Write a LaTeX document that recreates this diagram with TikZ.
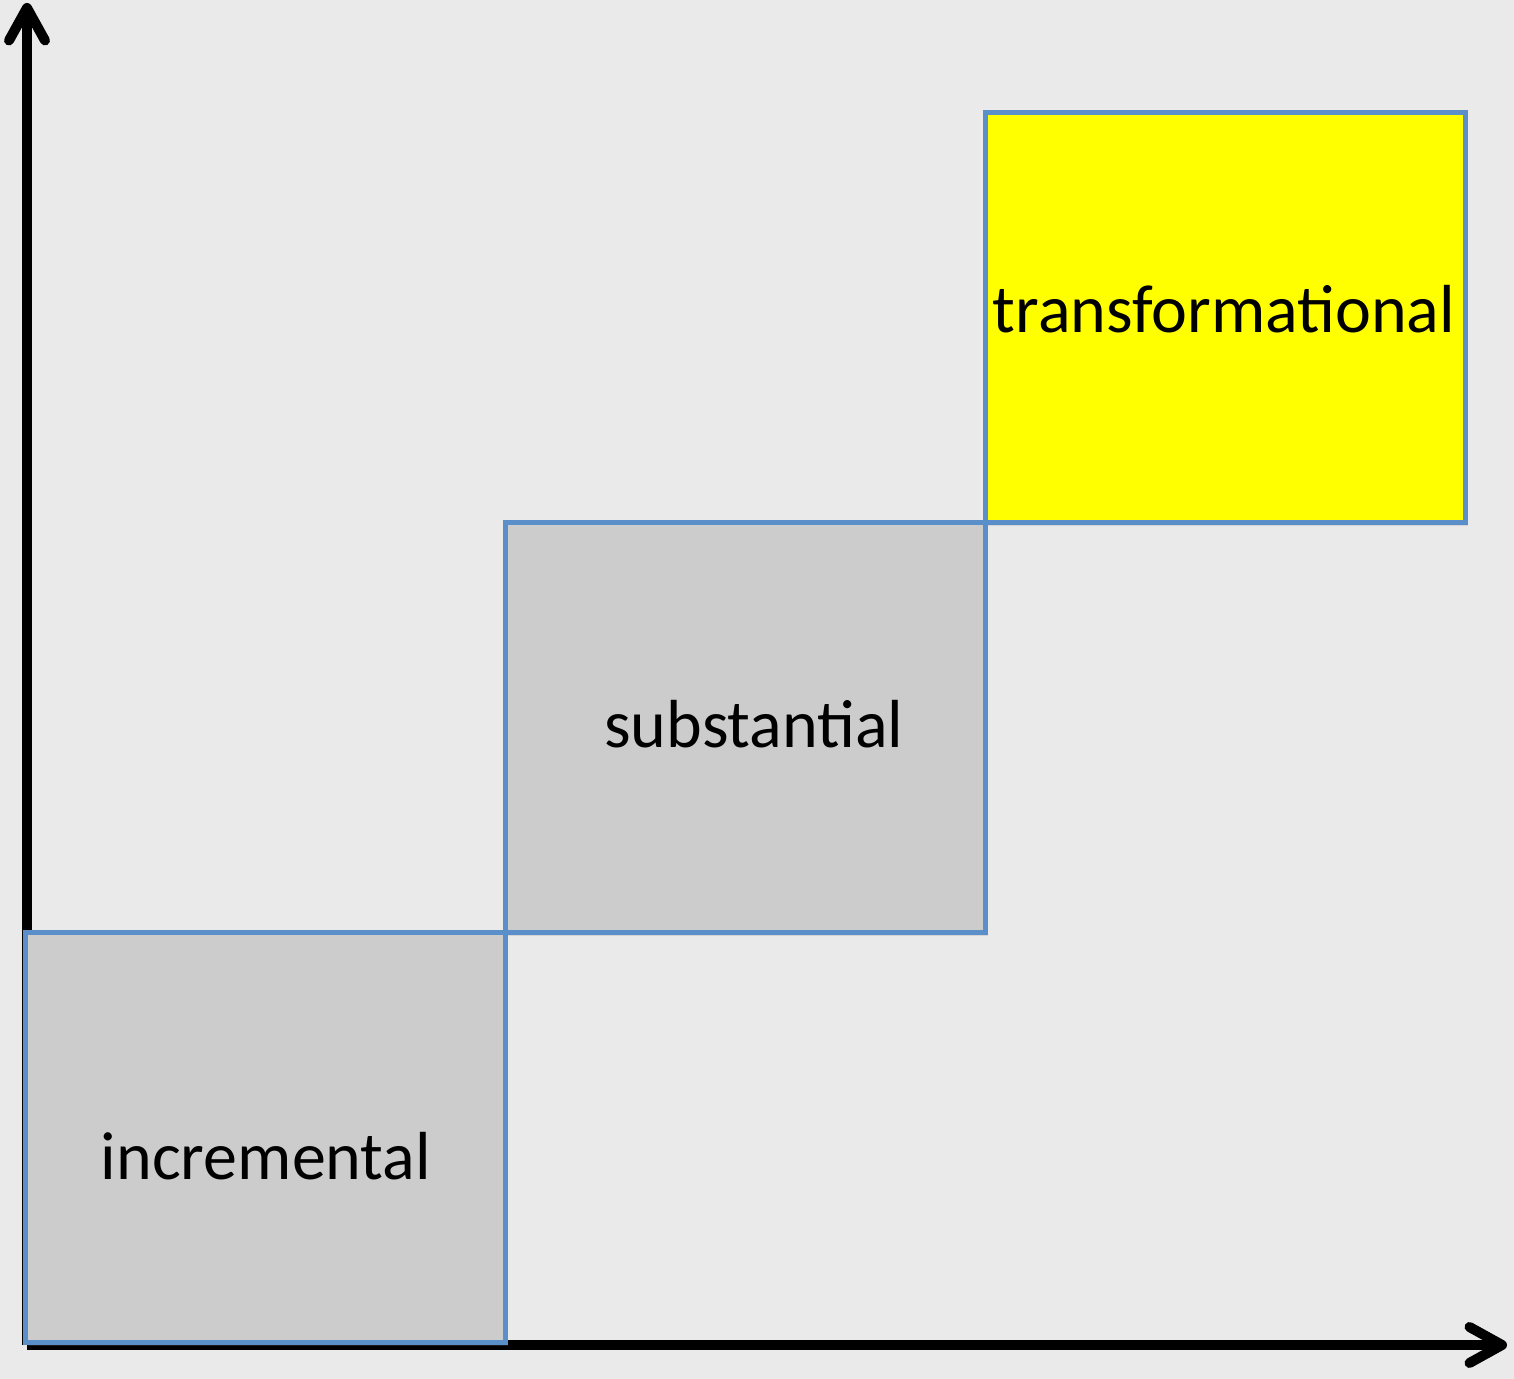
\documentclass[tikz,border=0pt]{standalone}
\usepackage{fontspec}
\setmainfont{Carlito}
\usetikzlibrary{arrows.meta, positioning, shadows}

\definecolor{paper}{HTML}{EAEAEA}
\definecolor{edgeblue}{HTML}{5B8FC9}
\definecolor{stepgray}{HTML}{CCCCCC}
\definecolor{topyellow}{HTML}{FFFF00}

\begin{document}
\begin{tikzpicture}[
		level/.style={draw=edgeblue, line width=0.1cm, fill=stepgray, inner sep=0pt, outer sep=0pt,
			minimum width=9.6cm, minimum height=8.2cm,
			drop shadow={opacity=0.2, shadow xshift=0.06cm, shadow yshift=-0.06cm}},
		axis/.style={line width=0.2cm, -{Straight Barb[length=0.65cm, width=0.72cm, line cap=round, line join=round]}},
		word/.style={anchor=base, font=\fontsize{38.7}{46}\selectfont}]
		\useasboundingbox (0,0) rectangle (30.28,27.58);
		\fill[paper] (0,0) rectangle (30.28,27.58);
		
		\coordinate (o) at (0.54,0.68);
		\coordinate (ytip) at (0.54,27.52);
		\coordinate (xtip) at (30.14,0.68);
		\draw[axis] (o) -- (ytip);
		\draw[axis] (o) -- (xtip);
		
		\node[level, anchor=south west] (inc) at (0.5,0.72) {};
		\node[level, anchor=south west] (sub) at (inc.north east) {};
		\node[level, anchor=south west, fill=topyellow] (tra) at (sub.north east) {};
		
		\node[word] (incl) at (5.32,3.98) {incremental};
		\node[word] (subl) at (15.08,12.62) {substantial};
		\node[word] (tral) at (24.48,20.92) {transformational};
	\end{tikzpicture}
\end{document}
